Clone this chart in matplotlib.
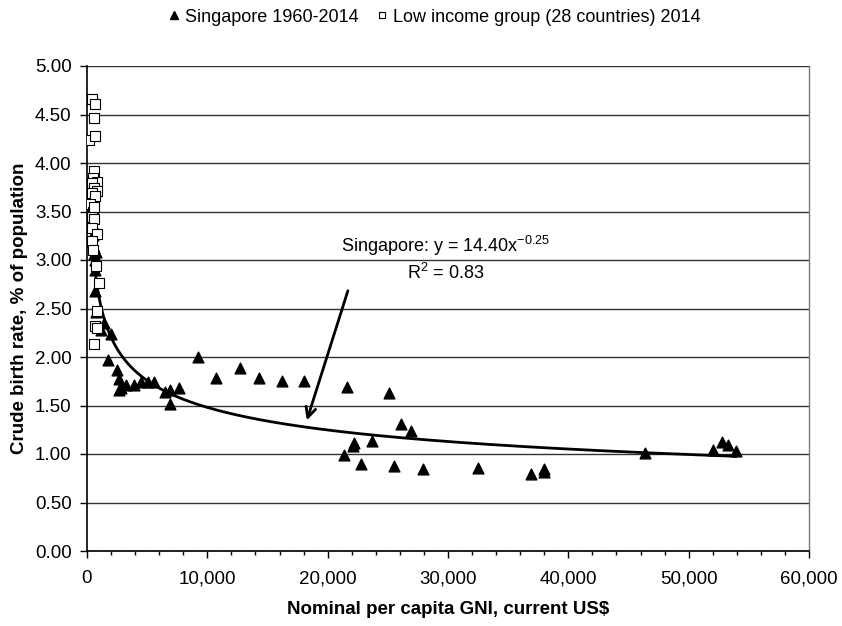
import matplotlib
matplotlib.use("Agg")
import matplotlib.pyplot as plt
import numpy as np
from matplotlib.ticker import MultipleLocator, FuncFormatter
from matplotlib.lines import Line2D

# Singapore 1960-2014: GNI per capita (US$), crude birth rate (%)
sg_gni = [410, 470, 520, 560, 600, 640, 700, 760, 650, 720,
          1150, 1380, 1960, 1720, 2500, 2650, 2700,
          2850, 3200, 3900, 4500, 5100, 5580, 6480, 6860, 6870, 7670,
          9200, 10690, 12690, 14270, 16200, 18010, 21610, 25120, 26120, 26950,
          22190, 22070, 23650, 21380, 22740, 25490, 27940, 32470, 36870, 38000,
          38000, 46370, 52040, 52790, 53240, 53900]
sg_cbr = [3.20, 3.36, 3.26, 3.13, 3.06, 3.00, 2.90, 3.08, 2.68, 2.46,
          2.28, 2.35, 2.24, 1.97, 1.87, 1.77, 1.66, 1.68,
          1.71, 1.71, 1.74, 1.74, 1.74, 1.64, 1.66, 1.52, 1.68,
          2.00, 1.78, 1.89, 1.78, 1.75, 1.75, 1.69, 1.63, 1.31, 1.24,
          1.11, 1.08, 1.13, 0.99, 0.90, 0.88, 0.85, 0.86, 0.79, 0.85,
          0.81, 1.01, 1.04, 1.12, 1.09, 1.03]

# Low income group (28 countries) 2014
li_gni = [386, 657, 602, 190, 657, 602, 520, 794, 386, 560,
          794, 386, 657, 250, 520, 386, 560, 386, 794, 386,
          470, 740, 1010, 870, 650, 794, 560, 590]
li_cbr = [4.66, 4.61, 4.46, 4.24, 4.28, 3.92, 3.85, 3.80, 3.79, 3.74,
          3.71, 3.69, 3.66, 3.58, 3.49, 3.44, 3.42, 3.33, 3.27, 3.20,
          3.10, 2.94, 2.76, 2.47, 2.32, 2.30, 2.13, 3.55]

# Power-law trendline (Singapore)
fit_a = 14.40
fit_b = -0.247

plt.rcParams['font.family'] = ['Liberation Sans', 'DejaVu Sans']

fig = plt.figure(figsize=(8.42, 6.26), dpi=100)
ax = fig.add_axes([87 / 842, 1 - 551 / 626, (809 - 87) / 842, (551 - 66) / 626])

ax.set_xlim(0, 60000)
ax.set_ylim(0, 5.0)

ax.yaxis.set_major_locator(MultipleLocator(0.5))
ax.xaxis.set_major_locator(MultipleLocator(10000))
ax.xaxis.set_minor_locator(MultipleLocator(2000))
ax.yaxis.set_major_formatter(FuncFormatter(lambda v, p: f"{v:.2f}"))
ax.xaxis.set_major_formatter(FuncFormatter(lambda v, p: f"{int(v):,}"))

ax.grid(axis='y', color='#333333', linewidth=1.0, zorder=0)
ax.set_axisbelow(True)

for s in ['left', 'bottom']:
    ax.spines[s].set_color('black')
    ax.spines[s].set_linewidth(1.2)
ax.spines['top'].set_visible(False)
ax.spines['right'].set_color('#777777')
ax.spines['right'].set_linestyle((0, (2, 1)))
ax.spines['right'].set_linewidth(1.0)

ax.tick_params(axis='both', which='major', direction='out', length=5, width=1,
               labelsize=13.5, colors='black')
ax.tick_params(axis='x', which='minor', direction='out', length=3, width=1)
ax.tick_params(axis='x', pad=9)
ax.tick_params(axis='y', pad=6)

xs = np.linspace(min(sg_gni), max(sg_gni), 600)
ax.plot(xs, fit_a * xs ** fit_b, color='black', linewidth=2.0, zorder=3)

ax.scatter(sg_gni, sg_cbr, marker='^', s=60, color='black', zorder=4)
ax.scatter(li_gni, li_cbr, marker='s', s=42, facecolors='white',
           edgecolors='black', linewidths=0.8, zorder=5)

ax.annotate('', xy=(18200, 1.32), xytext=(21750, 2.71),
            arrowprops=dict(arrowstyle='->', color='black', lw=2.0,
                            mutation_scale=18))
ax.text(29800, 3.15, r'Singapore: y = 14.40x$^{\mathregular{-0.25}}$',
        ha='center', va='center', fontsize=13)
ax.text(29800, 2.87, r'R$^{\mathregular{2}}$ = 0.83', ha='center', va='center',
        fontsize=13)

ax.set_xlabel('Nominal per capita GNI, current US$', fontsize=13.5,
              fontweight='bold', labelpad=10,
              family=['Liberation Sans Narrow', 'Liberation Sans'])
ax.set_ylabel('Crude birth rate, % of population', fontsize=13.5,
              fontweight='bold', labelpad=5,
              family=['Liberation Sans Narrow', 'Liberation Sans'])

handles = [Line2D([], [], marker='^', linestyle='none', color='black', markersize=6),
           Line2D([], [], marker='s', linestyle='none', markerfacecolor='white',
                  markeredgecolor='black', markersize=5, markeredgewidth=0.8)]
fig.legend(handles, ['Singapore 1960-2014', 'Low income group (28 countries) 2014'],
           loc='center', bbox_to_anchor=(433 / 842, 1 - 17 / 626), ncol=2,
           frameon=False, fontsize=13, handletextpad=0.1, columnspacing=0.8,
           handlelength=1.0)

fig.savefig('out.png', dpi=100)
